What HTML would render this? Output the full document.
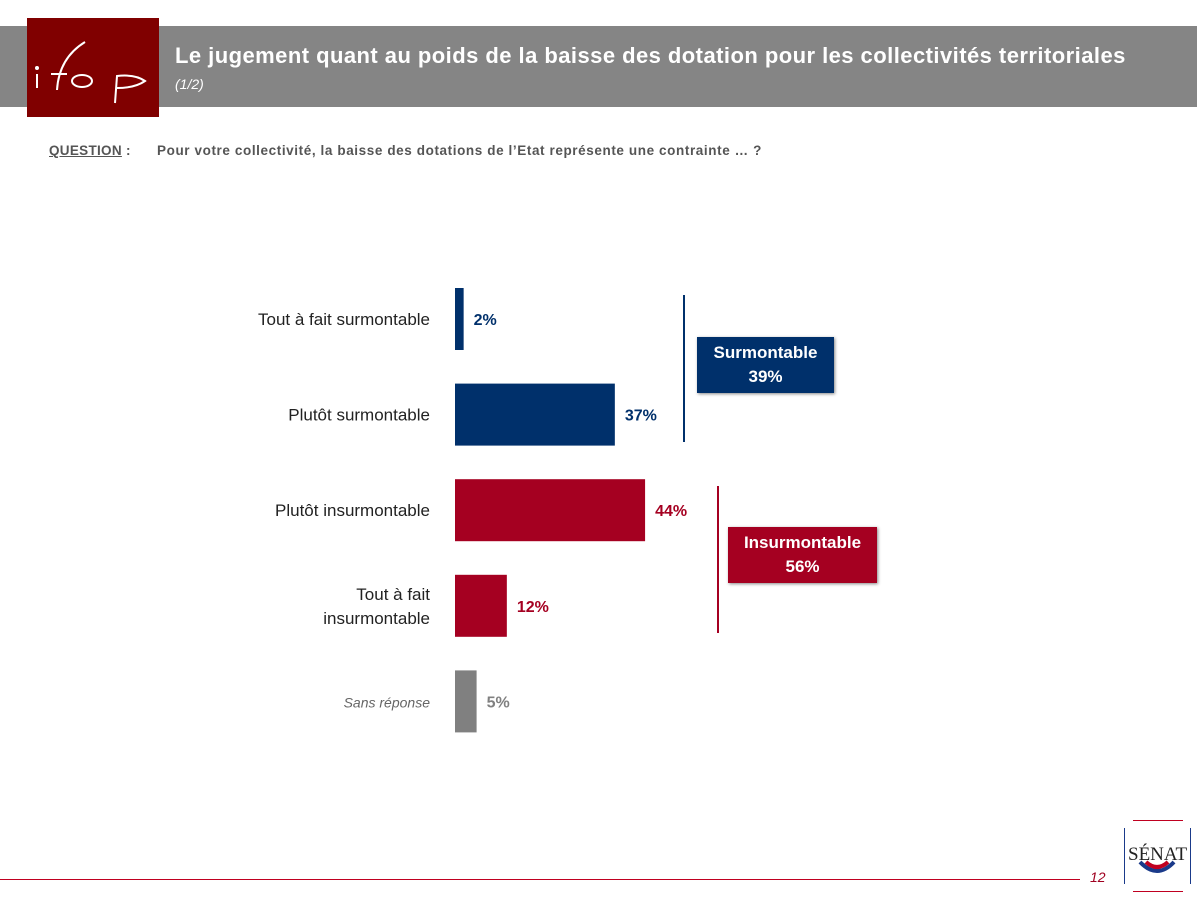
<!DOCTYPE html>
<html><head><meta charset="utf-8"><style>
body{margin:0;width:1197px;height:899px;background:#fff;position:relative;overflow:hidden;font-family:"Liberation Sans",sans-serif}
.abs{position:absolute}
</style></head><body>
<div class="abs" style="left:0;top:26px;width:1197px;height:81px;background:#858585"></div>
<div class="abs" style="left:27px;top:18px;width:132px;height:99px;background:#800000">
<svg width="132" height="99"><g stroke="#fff" stroke-width="2" fill="none">
<line x1="10" y1="56" x2="10" y2="70"/><circle cx="10" cy="50" r="1" fill="#fff"/>
<path d="M30 72 Q32 40 58 24"/><line x1="24" y1="56" x2="40" y2="56"/>
<ellipse cx="55" cy="63" rx="10" ry="6"/>
<path d="M88 85 L90 58 Q108 56 118 63 Q108 70 90 70"/>
</g></svg></div>
<div class="abs" style="left:175px;top:43px;color:#fff;font-weight:bold;font-size:22px;letter-spacing:0.45px;white-space:nowrap">Le jugement quant au poids de la baisse des dotation pour les collectivités territoriales</div>
<div class="abs" style="left:175px;top:76px;color:#fff;font-style:italic;font-size:14px">(1/2)</div>
<div class="abs" style="left:49px;top:143px;color:#555;font-weight:bold;font-size:13.5px;letter-spacing:0.3px"><span style="text-decoration:underline">QUESTION</span> :</div>
<div class="abs" style="left:157px;top:143px;color:#555;font-weight:bold;font-size:13.5px;letter-spacing:0.6px;white-space:nowrap">Pour votre collectivité, la baisse des dotations de l’Etat représente une contrainte … ?</div>
<svg class="abs" style="left:0;top:0" width="1197" height="899" id="chart"></svg>
<div class="abs" style="left:697px;top:337px;width:137px;height:56px;background:#00306b;color:#fff;font-weight:bold;font-size:17px;text-align:center;line-height:24px;padding-top:4px;box-sizing:border-box;box-shadow:1px 1px 3px #888">Surmontable<br>39%</div>
<div class="abs" style="left:728px;top:527px;width:149px;height:56px;background:#a50021;color:#fff;font-weight:bold;font-size:17px;text-align:center;line-height:24px;padding-top:4px;box-sizing:border-box;box-shadow:1px 1px 3px #888">Insurmontable<br>56%</div>
<div class="abs" style="left:0;top:879px;width:1080px;height:1px;background:#c00020"></div>
<div class="abs" style="left:1090px;top:869px;color:#a00020;font-style:italic;font-size:14px">12</div>
<div class="abs" style="left:1124px;top:820px;width:66px;height:72px">
<div class="abs" style="left:9px;top:0;width:50px;height:1px;background:#c00020"></div>
<div class="abs" style="left:9px;top:71px;width:50px;height:1px;background:#c00020"></div>
<div class="abs" style="left:0;top:8px;width:1px;height:56px;background:#1a3a8a"></div>
<div class="abs" style="left:66px;top:8px;width:1px;height:56px;background:#1a3a8a"></div>
<div class="abs" style="left:4px;top:24px;font-family:'Liberation Serif',serif;font-size:19px;color:#222">SÉNAT</div>
<svg class="abs" style="left:10px;top:38px" width="46" height="28"><path d="M6 4 Q23 22 40 4" stroke="#1a3a8a" stroke-width="4" fill="none"/><path d="M12 4 Q23 14 34 4" stroke="#c00020" stroke-width="4" fill="none"/></svg>
</div>
<script>
const categories=["Tout à fait surmontable","Plutôt surmontable","Plutôt insurmontable","Tout à fait|insurmontable","Sans réponse"];
const values=[2,37,44,12,5];
const colors=["#00306b","#00306b","#a50021","#a50021","#808080"];
const svg=document.getElementById('chart');
const NS="http://www.w3.org/2000/svg";
const x0=455,scale=4.32,top0=288,step=95.6,bh=62;
const xs=v=>v*scale, ys=i=>top0+i*step;
values.forEach((v,i)=>{
 const r=document.createElementNS(NS,'rect');
 r.setAttribute('x',x0);r.setAttribute('y',ys(i));r.setAttribute('width',Math.max(xs(v),7));r.setAttribute('height',bh);r.setAttribute('fill',colors[i]);
 
 
 svg.appendChild(r);
 const t=document.createElementNS(NS,'text');
 t.setAttribute('x',x0+Math.max(xs(v),7)+10);t.setAttribute('y',ys(i)+bh/2+6);t.setAttribute('fill',colors[i]);t.setAttribute('font-weight','bold');t.setAttribute('font-size','16');t.setAttribute('font-family','Liberation Sans, sans-serif');
 t.textContent=v+'%';
 
 
 svg.appendChild(t);
 const lines=categories[i].split('|');
 lines.forEach((ln,j)=>{
  const c=document.createElementNS(NS,'text');
  c.setAttribute('x',430);c.setAttribute('y',ys(i)+bh/2+6+(j-(lines.length-1)/2)*24);c.setAttribute('text-anchor','end');
  c.setAttribute('font-family','Liberation Sans, sans-serif');
  if(i==4){c.setAttribute('font-size','14');c.setAttribute('font-style','italic');c.setAttribute('fill','#666');}
  else{c.setAttribute('font-size','17');c.setAttribute('fill','#222');}
  c.textContent=ln;
  
  
  svg.appendChild(c);
 });
});
[[684,295,442,"#00306b"],[718,486,633,"#a50021"]].forEach((b,k)=>{
 const l=document.createElementNS(NS,'line');
 l.setAttribute('x1',b[0]);l.setAttribute('x2',b[0]);l.setAttribute('y1',b[1]);l.setAttribute('y2',b[2]);l.setAttribute('stroke',b[3]);l.setAttribute('stroke-width','2');
 
 
 svg.appendChild(l);
});
</script>
</body></html>
